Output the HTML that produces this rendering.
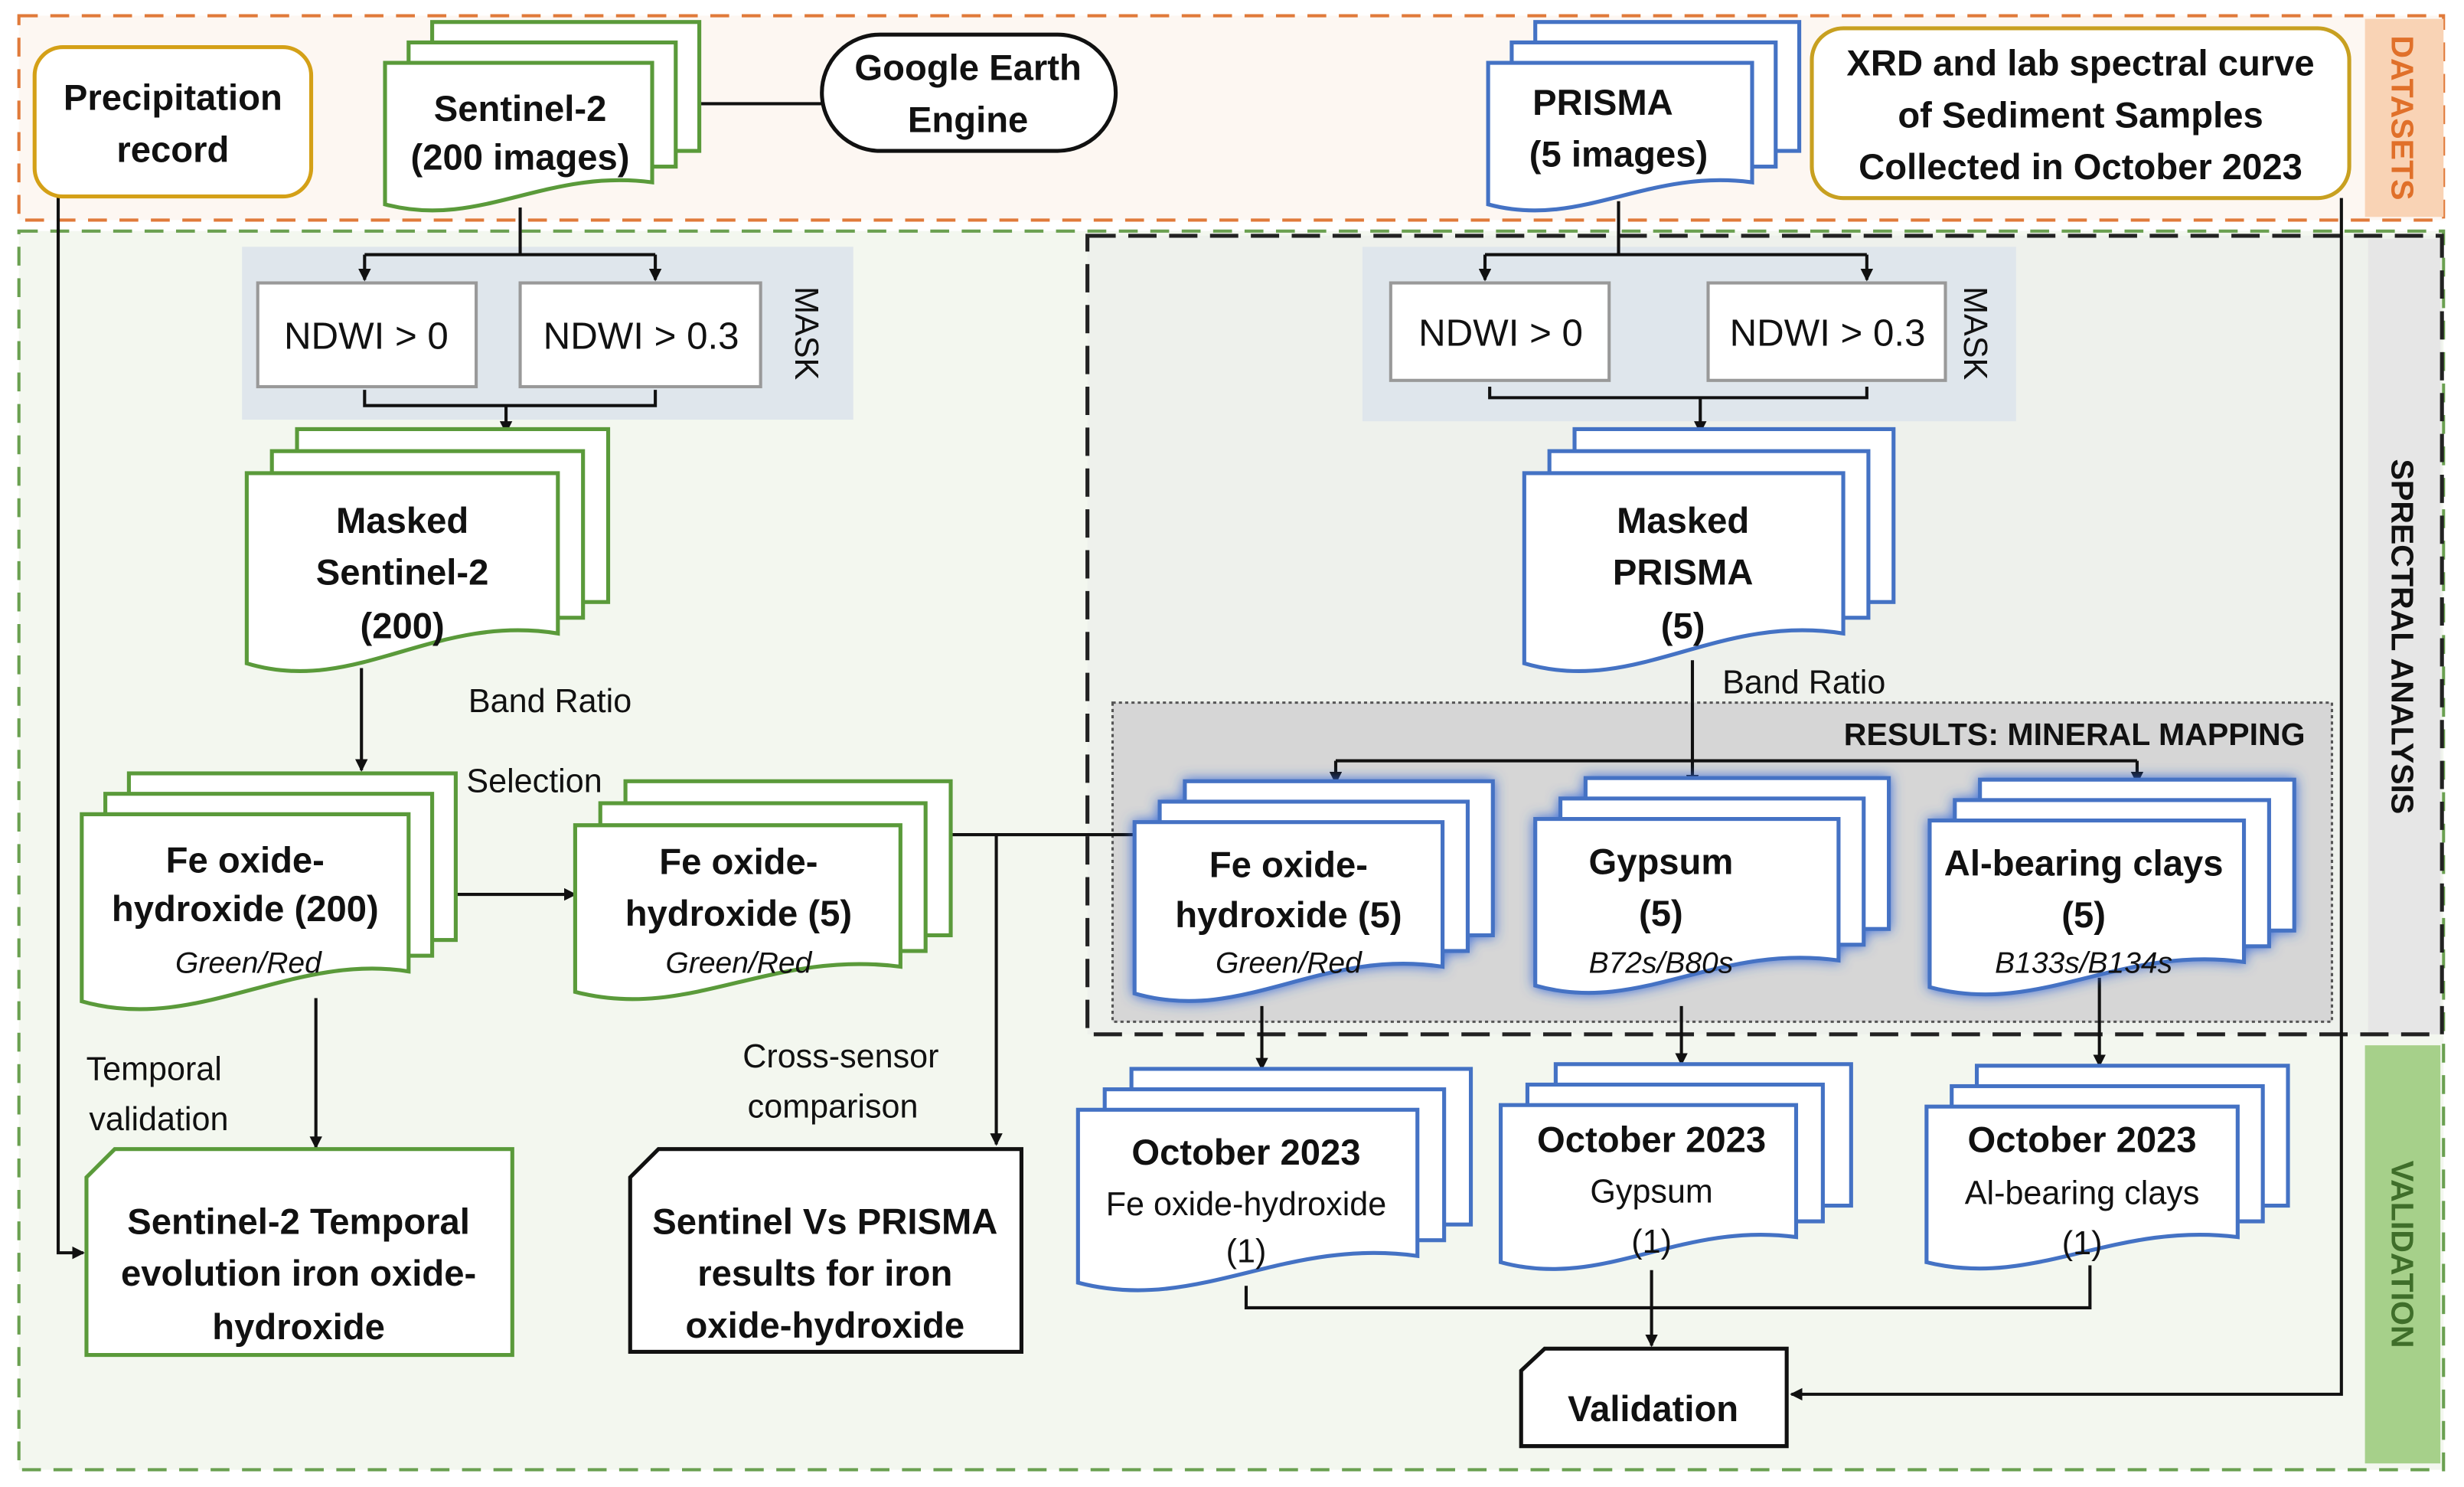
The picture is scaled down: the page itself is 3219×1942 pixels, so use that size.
<!DOCTYPE html>
<html><head><meta charset="utf-8"><style>
html,body{margin:0;padding:0;background:#fff}
svg{display:block}
text{font-family:"Liberation Sans",sans-serif;text-anchor:middle;fill:#111}
.b{font-weight:bold;font-size:23px}
.r{font-size:21px}
.i{font-style:italic;font-size:19px}
.n{font-size:24px}
.g{fill:#fff;stroke:#5a9a3a;stroke-width:2.5}
.u{fill:#fff;stroke:#4472c4;stroke-width:2.5}
.k{fill:none;stroke:#111;stroke-width:2}
</style></head><body>
<svg width="3219" height="1942" viewBox="0 0 1568 946" xmlns="http://www.w3.org/2000/svg">
<defs>
<marker id="a" markerWidth="8" markerHeight="8" refX="7" refY="4" orient="auto" markerUnits="userSpaceOnUse"><path d="M0,0 L8,4 L0,8 Z" fill="#111"/></marker>
<filter id="gl" x="-20%" y="-20%" width="140%" height="140%"><feDropShadow dx="0" dy="0" stdDeviation="4" flood-color="#2f64d8" flood-opacity="0.9"/></filter>
</defs>
<rect width="1568" height="946" fill="#fff"/>
<!-- regions -->
<rect x="12" y="10" width="1543" height="130" fill="#fdf7f2" stroke="#e07a3a" stroke-width="2" stroke-dasharray="12 8"/>
<rect x="1505" y="12" width="50" height="126" fill="#f9d3b5"/>
<text transform="translate(1522,75) rotate(90)" style="font-weight:bold;font-size:20px;fill:#e0702a">DATASETS</text>
<rect x="12" y="147" width="1543" height="788" fill="#f3f7ef" stroke="#6aa050" stroke-width="2" stroke-dasharray="12 8"/>
<rect x="692" y="150" width="862" height="508" fill="#eef1ec"/>
<rect x="1507" y="152" width="46" height="506" fill="#e6e6e6"/>
<text transform="translate(1522,405) rotate(90)" style="font-weight:bold;font-size:20px">SPRECTRAL ANALYSIS</text>
<rect x="1505" y="665" width="48" height="266" fill="#a6d08a"/>
<text transform="translate(1522,798) rotate(90)" style="font-weight:bold;font-size:20px;fill:#3f6e2a">VALIDATION</text>
<rect x="692" y="150" width="862" height="508" fill="none" stroke="#222" stroke-width="2.5" stroke-dasharray="18 8"/>

<!-- mask panels -->
<rect x="154" y="157" width="389" height="110" fill="#dfe6ec"/>
<rect x="164" y="180" width="139" height="66" fill="#fff" stroke="#999" stroke-width="2"/>
<rect x="331" y="180" width="153" height="66" fill="#fff" stroke="#999" stroke-width="2"/>
<text class="n" x="233" y="222">NDWI &gt; 0</text>
<text class="n" x="408" y="222">NDWI &gt; 0.3</text>
<text transform="translate(506,212) rotate(90)" style="font-size:21px">MASK</text>
<rect x="867" y="157" width="416" height="111" fill="#dfe6ec"/>
<rect x="885" y="180" width="139" height="62" fill="#fff" stroke="#999" stroke-width="2"/>
<rect x="1087" y="180" width="151" height="62" fill="#fff" stroke="#999" stroke-width="2"/>
<text class="n" x="955" y="220">NDWI &gt; 0</text>
<text class="n" x="1163" y="220">NDWI &gt; 0.3</text>
<text transform="translate(1250,212) rotate(90)" style="font-size:21px">MASK</text>

<!-- results panel -->
<rect x="708" y="447" width="776" height="203" fill="#d6d6d6" stroke="#555" stroke-width="1.5" stroke-dasharray="2 2"/>
<text x="1467" y="474" style="font-weight:bold;font-size:20px;text-anchor:end">RESULTS: MINERAL MAPPING</text>

<!-- connectors -->
<path class="k" d="M37,125 V797 H53" marker-end="url(#a)"/>
<path class="k" d="M415,66 H523"/>
<path class="k" d="M331,132 V162 M232,162 H417"/>
<path class="k" d="M232,162 V178" marker-end="url(#a)"/>
<path class="k" d="M417,162 V178" marker-end="url(#a)"/>
<path class="k" d="M232,248 V258 H417 V248"/>
<path class="k" d="M322,258 V275" marker-end="url(#a)"/>
<path class="k" d="M1030,128 V162 M945,162 H1188"/>
<path class="k" d="M945,162 V178" marker-end="url(#a)"/>
<path class="k" d="M1188,162 V178" marker-end="url(#a)"/>
<path class="k" d="M948,246 V253 H1188 V246"/>
<path class="k" d="M1082,253 V275" marker-end="url(#a)"/>
<path class="k" d="M230,425 V490" marker-end="url(#a)"/>
<path class="k" d="M1077,420 V500" marker-end="url(#a)"/>
<path class="k" d="M850,484 H1360"/>
<path class="k" d="M850,484 V498" marker-end="url(#a)"/>
<path class="k" d="M1360,484 V498" marker-end="url(#a)"/>
<path class="k" d="M290,569 H366" marker-end="url(#a)"/>
<path class="k" d="M605,531 H722"/>
<path class="k" d="M634,531 V728" marker-end="url(#a)"/>
<path class="k" d="M201,635 V730" marker-end="url(#a)"/>
<path class="k" d="M803,640 V680" marker-end="url(#a)"/>
<path class="k" d="M1070,640 V677" marker-end="url(#a)"/>
<path class="k" d="M1336,622 V678" marker-end="url(#a)"/>
<path class="k" d="M793,818 V832 H1330 V805"/>
<path class="k" d="M1051,808 V856" marker-end="url(#a)"/>
<path class="k" d="M1490,126 V887 H1140" marker-end="url(#a)"/>

<!-- precipitation -->
<rect x="22" y="30" width="176" height="95" rx="18" fill="#fff" stroke="#d4a017" stroke-width="2.5"/>
<text class="b" x="110" y="70">Precipitation</text>
<text class="b" x="110" y="103">record</text>
<!-- GEE -->
<rect x="523" y="22" width="187" height="74" rx="37" fill="#fff" stroke="#111" stroke-width="2.5"/>
<text class="b" x="616" y="51">Google Earth</text>
<text class="b" x="616" y="84">Engine</text>
<!-- XRD -->
<rect x="1153" y="18" width="342" height="108" rx="20" fill="#fff" stroke="#c8a020" stroke-width="2.5"/>
<text class="b" x="1324" y="48">XRD and lab spectral curve</text>
<text class="b" x="1324" y="81">of Sediment Samples</text>
<text class="b" x="1324" y="114">Collected in October 2023</text>

<!-- Sentinel-2 -->
<rect class="g" x="275" y="14" width="170" height="82"/>
<rect class="g" x="260" y="27" width="170" height="79"/>
<path class="g" d="M245 40 H415 V116 C347 107 305 146 245 130 Z"/>
<text class="b" x="331" y="77">Sentinel-2</text>
<text class="b" x="331" y="108">(200 images)</text>
<!-- PRISMA -->
<rect class="u" x="977" y="14" width="168" height="82"/>
<rect class="u" x="962" y="27" width="168" height="79"/>
<path class="u" d="M947 40 H1115 V116 C1048 107 1006 146 947 130 Z"/>
<text class="b" x="1020" y="73">PRISMA</text>
<text class="b" x="1030" y="106">(5 images)</text>

<!-- Masked Sentinel -->
<rect class="g" x="189" y="273" width="198" height="110"/>
<rect class="g" x="173" y="287" width="198" height="106"/>
<path class="g" d="M157 301 H355 V403 C276 390 226 443 157 422 Z"/>
<text class="b" x="256" y="339">Masked</text>
<text class="b" x="256" y="372">Sentinel-2</text>
<text class="b" x="256" y="406">(200)</text>
<!-- Masked PRISMA -->
<rect class="u" x="1002" y="273" width="203" height="110"/>
<rect class="u" x="986" y="287" width="203" height="106"/>
<path class="u" d="M970 301 H1173 V403 C1092 390 1041 443 970 422 Z"/>
<text class="b" x="1071" y="339">Masked</text>
<text class="b" x="1071" y="372">PRISMA</text>
<text class="b" x="1071" y="406">(5)</text>

<text class="r" x="350" y="453">Band  Ratio</text>
<text class="r" x="340" y="504">Selection</text>
<text class="r" x="1148" y="441">Band  Ratio</text>

<!-- Fe 200 -->
<rect class="g" x="82" y="492" width="208" height="106"/>
<rect class="g" x="67" y="505" width="208" height="103"/>
<path class="g" d="M52 518 H260 V618 C185 606 125 658 52 637 Z"/>
<text class="b" x="156" y="555">Fe oxide-</text>
<text class="b" x="156" y="586">hydroxide (200)</text>
<text class="i" x="158" y="619">Green/Red</text>
<!-- Fe 5 left -->
<rect class="g" x="398" y="497" width="207" height="98"/>
<rect class="g" x="382" y="511" width="207" height="94"/>
<path class="g" d="M366 525 H573 V615 C490 604 438 650 366 631 Z"/>
<text class="b" x="470" y="556">Fe oxide-</text>
<text class="b" x="470" y="589">hydroxide (5)</text>
<text class="i" x="470" y="619">Green/Red</text>

<!-- results -->
<g filter="url(#gl)">
<rect class="u" x="754" y="497" width="196" height="98"/>
<rect class="u" x="738" y="510" width="196" height="95"/>
<path class="u" d="M722 523 H918 V615 C840 603 791 652 722 632 Z"/>
<rect class="u" x="1009" y="495" width="193" height="96"/>
<rect class="u" x="993" y="508" width="193" height="93"/>
<path class="u" d="M977 521 H1170 V611 C1092 600 1044 646 977 627 Z"/>
<rect class="u" x="1260" y="496" width="200" height="96"/>
<rect class="u" x="1244" y="509" width="200" height="93"/>
<path class="u" d="M1228 522 H1428 V612 C1348 601 1298 647 1228 628 Z"/>
</g>
<text class="b" x="820" y="558">Fe oxide-</text>
<text class="b" x="820" y="590">hydroxide (5)</text>
<text class="i" x="820" y="619">Green/Red</text>
<text class="b" x="1057" y="556">Gypsum</text>
<text class="b" x="1057" y="589">(5)</text>
<text class="i" x="1057" y="619">B72s/B80s</text>
<text class="b" x="1326" y="557">Al-bearing clays</text>
<text class="b" x="1326" y="590">(5)</text>
<text class="i" x="1326" y="619">B133s/B134s</text>

<!-- october -->
<rect class="u" x="720" y="680" width="216" height="99"/>
<rect class="u" x="703" y="693" width="216" height="96"/>
<path class="u" d="M686 706 H902 V799 C816 787 762 836 686 816 Z"/>
<text class="b" x="793" y="741">October 2023</text>
<text class="r" x="793" y="773">Fe oxide-hydroxide</text>
<text class="r" x="793" y="803">(1)</text>
<rect class="u" x="990" y="677" width="188" height="90"/>
<rect class="u" x="972" y="690" width="188" height="87"/>
<path class="u" d="M955 703 H1143 V787 C1068 777 1021 821 955 803 Z"/>
<text class="b" x="1051" y="733">October 2023</text>
<text class="r" x="1051" y="765">Gypsum</text>
<text class="r" x="1051" y="797">(1)</text>
<rect class="u" x="1258" y="678" width="198" height="89"/>
<rect class="u" x="1242" y="691" width="198" height="86"/>
<path class="u" d="M1226 704 H1424 V787 C1345 777 1295 820 1226 803 Z"/>
<text class="b" x="1325" y="733">October 2023</text>
<text class="r" x="1325" y="766">Al-bearing clays</text>
<text class="r" x="1325" y="798">(1)</text>

<!-- cards -->
<path d="M73 731 H326 V862 H55 V749 Z" fill="#fff" stroke="#5a9a3a" stroke-width="2.5"/>
<text class="b" x="190" y="785">Sentinel-2 Temporal</text>
<text class="b" x="190" y="818">evolution iron oxide-</text>
<text class="b" x="190" y="852">hydroxide</text>
<path d="M419 731 H650 V860 H401 V749 Z" fill="#fff" stroke="#111" stroke-width="2.5"/>
<text class="b" x="525" y="785">Sentinel Vs PRISMA</text>
<text class="b" x="525" y="818">results for iron</text>
<text class="b" x="525" y="851">oxide-hydroxide</text>
<path d="M983 858 H1137 V920 H968 V872 Z" fill="#fff" stroke="#111" stroke-width="2.5"/>
<text class="b" x="1052" y="904">Validation</text>

<text class="r" x="98" y="687">Temporal</text>
<text class="r" x="101" y="719">validation</text>
<text class="r" x="535" y="679">Cross-sensor</text>
<text class="r" x="530" y="711">comparison</text>
</svg>
</body></html>
